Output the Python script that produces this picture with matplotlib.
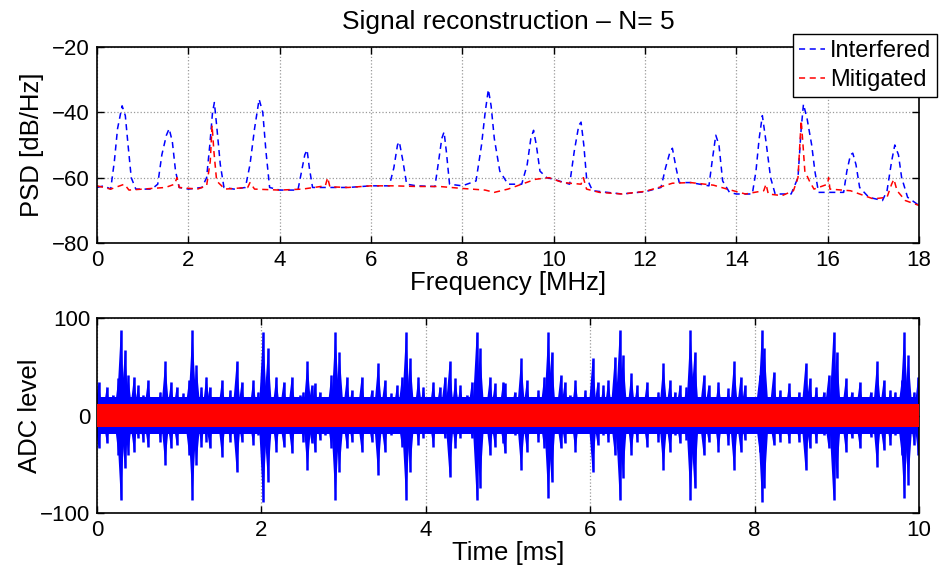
import matplotlib
matplotlib.use("Agg")
import matplotlib.pyplot as plt
import numpy as np

plt.rcParams['font.family'] = ['Liberation Sans', 'DejaVu Sans']

# ---------------- top panel data (PSD) ----------------
interf_freq = [0.0, 0.15, 0.3, 0.38, 0.45, 0.55, 0.62, 0.68, 0.75, 0.85, 1.0, 1.2, 1.33, 1.42, 1.52, 1.58,
               1.65, 1.72, 1.8, 2.0, 2.3, 2.4, 2.47, 2.53, 2.57, 2.62, 2.7, 2.78, 3.0, 3.25, 3.35, 3.45,
               3.55, 3.63, 3.7, 3.78, 4.0, 4.4, 4.48, 4.55, 4.6, 4.65, 4.72, 5.0, 5.5, 6.0, 6.4, 6.5,
               6.58, 6.62, 6.7, 6.78, 7.0, 7.4, 7.48, 7.55, 7.6, 7.65, 7.72, 8.0, 8.3, 8.42, 8.5, 8.57,
               8.63, 8.7, 8.82, 9.0, 9.3, 9.42, 9.5, 9.56, 9.62, 9.7, 9.85, 10.0, 10.35, 10.45, 10.55,
               10.6, 10.66, 10.72, 10.85, 11.5, 12.0, 12.35, 12.45, 12.55, 12.6, 12.68, 12.75, 13.0,
               13.4, 13.47, 13.55, 13.62, 13.7, 13.85, 14.0, 14.35, 14.43, 14.5, 14.57, 14.65, 14.75,
               14.85, 15.2, 15.35, 15.42, 15.47, 15.55, 15.65, 15.72, 15.8, 16.0, 16.35, 16.42, 16.5,
               16.55, 16.62, 16.7, 16.9, 17.2, 17.3, 17.4, 17.47, 17.55, 17.62, 17.75, 18.0]
interf_psd = [-63, -62.5, -63.5, -55, -45, -38, -41, -50, -60, -63.5, -63.5, -63.5, -62, -53, -47, -45,
              -49, -58, -63, -63.5, -63, -60, -50, -40, -37, -44, -56, -63, -63.5, -63, -56, -45,
              -36, -40, -52, -63, -63.8, -63.8, -58, -53, -51.5, -57, -63, -63, -63, -62.5, -62.5, -57,
              -50, -49, -55, -62, -62.5, -62.7, -55, -48, -46, -52, -62, -62.5, -61, -50, -40, -33,
              -38, -48, -58, -62, -62, -56, -48, -45.5, -50, -58, -60, -60.5, -62, -52, -44,
              -43, -50, -60, -64, -65, -64.3, -63, -57, -52, -51, -57, -61.5, -61.5,
              -62.5, -55, -47, -50, -61, -64.5, -65, -65, -58, -48, -41, -49, -60,
              -65, -65, -60, -45, -37.5, -42, -50, -58, -64.5, -64.5, -64.5, -58, -53,
              -52.5, -56, -63, -66, -67, -64, -55, -50, -53, -60, -66, -68.5]

mitig_freq = [0.0, 0.3, 0.6, 0.7, 1.0, 1.5, 1.7, 1.75, 1.8, 2.2, 2.4, 2.48, 2.52, 2.56, 2.62, 2.8, 3.3,
              3.35, 3.45, 4.0, 4.5, 5.0, 5.05, 5.1, 5.5, 6.0, 6.5, 7.0, 7.5, 8.0, 8.5, 8.7, 9.0, 9.3,
              9.6, 9.9, 10.2, 10.6, 10.65, 10.72, 11.0, 11.5, 12.0, 12.3, 12.6, 13.0, 13.5, 13.8, 14.2,
              14.6, 14.65, 14.7, 15.0, 15.25, 15.35, 15.42, 15.46, 15.5, 15.6, 15.7, 16.0, 16.02, 16.05,
              16.5, 17.0, 17.3, 17.4, 17.45, 17.52, 17.7, 18.0]
mitig_psd = [-62.5, -63.5, -62, -63.8, -63.5, -63, -62, -60, -63, -63.5, -62.5, -55, -44, -52, -61, -63.5, -63,
             -61.5, -63.5, -63.8, -63.5, -62.5, -60, -62.8, -63, -62.5, -62.5, -62.7, -62.7, -63.3, -63.8, -64.5, -63.5, -62,
             -60.5, -60, -61.5, -62, -60, -63.5, -64.5, -65, -64.2, -63, -61.7, -61.5, -62.3, -63.5, -65,
             -64, -62, -65, -65.5, -64, -60, -42.5, -50, -58, -61, -63.5, -62, -60, -63.5,
             -64, -66.5, -66, -62, -60.5, -64, -67, -68.5]

freq_ticks = [0, 2, 4, 6, 8, 10, 12, 14, 16, 18]
psd_ticks = [-80, -60, -40, -20]

# ---------------- bottom panel data (time signal) ----------------
spike_time = [0.02, 0.12, 0.19, 0.26, 0.29, 0.34, 0.38, 0.45, 0.50, 0.56, 0.62, 0.69, 0.77, 0.83, 0.90,
              0.97, 1.05, 1.12, 1.16, 1.21, 1.27, 1.33, 1.37, 1.46, 1.52, 1.62, 1.70, 1.76, 1.84, 1.90,
              1.96, 2.02, 2.08, 2.18, 2.27, 2.37, 2.47, 2.51, 2.56, 2.61, 2.65, 2.71, 2.77, 2.85, 2.90,
              2.95, 3.04, 3.10, 3.22, 3.28, 3.34, 3.42, 3.50, 3.58, 3.65, 3.71, 3.76, 3.81, 3.91, 3.97,
              4.09, 4.17, 4.23, 4.29, 4.36, 4.42, 4.50, 4.56, 4.62, 4.66, 4.78, 4.84, 4.94, 4.96, 5.08,
              5.16, 5.23, 5.29, 5.37, 5.44, 5.49, 5.53, 5.64, 5.69, 5.75, 5.82, 5.94, 6.03, 6.09, 6.16,
              6.22, 6.30, 6.36, 6.40, 6.50, 6.57, 6.69, 6.83, 6.89, 6.97, 7.03, 7.09, 7.17, 7.22, 7.27,
              7.38, 7.44, 7.46, 7.56, 7.68, 7.75, 7.83, 7.88, 7.96, 8.06, 8.09, 8.12, 8.23, 8.31, 8.42,
              8.54, 8.62, 8.67, 8.75, 8.84, 8.90, 8.96, 9.00, 9.11, 9.18, 9.28, 9.41, 9.49, 9.57, 9.65,
              9.71, 9.79, 9.82, 9.87, 9.94, 9.99]
spike_up = [34.7, 29.6, 21.2, 38.1, 87.7, 67.2, 41.6, 40.0, 31.3, 21.2, 36.4, 17.6, 24.5, 55.4, 34.7,
            29.6, 22.8, 36.4, 87.7, 52.0, 29.6, 40.0, 29.6, 19.3, 36.4, 26.2, 55.4, 34.7, 19.3, 36.4,
            24.5, 86.0, 68.9, 40.0, 34.7, 40.0, 21.2, 24.5, 55.4, 31.3, 33.0, 24.5, 19.3, 41.6, 86.0,
            65.5, 40.0, 26.2, 40.0, 17.6, 26.2, 53.7, 36.4, 22.8, 31.3, 40.0, 86.0, 58.8, 40.0, 29.6,
            34.7, 29.6, 40.0, 55.4, 38.1, 31.3, 21.2, 34.7, 86.0, 68.9, 40.0, 33.0, 34.7, 33.0, 24.5,
            58.8, 36.4, 19.3, 26.2, 40.0, 86.0, 65.5, 41.6, 34.7, 21.2, 36.4, 26.2, 58.8, 34.7, 31.3,
            36.4, 60.4, 87.7, 62.1, 43.5, 31.3, 34.7, 24.5, 53.7, 36.4, 24.5, 31.3, 29.6, 87.7, 65.5,
            41.6, 31.3, 17.6, 34.7, 27.9, 55.4, 40.0, 31.3, 15.9, 41.6, 87.7, 68.9, 45.0, 26.2, 33.0,
            24.5, 53.7, 38.1, 29.6, 24.5, 41.6, 86.0, 65.5, 38.1, 24.5, 34.7, 24.5, 55.4, 36.4, 26.2,
            24.5, 36.4, 86.0, 62.1, 24.5, 40.0]
spike_down = [-33.7, -28.5, -18.3, -40.5, -86.6, -54.2, -40.5, -37.1, -23.4, -26.8, -32.0, -14.8, -26.8, -50.8, -33.7,
              -30.3, -16.6, -40.5, -86.6, -50.8, -32.0, -26.8, -33.7, -18.3, -42.2, -26.8, -57.6, -26.8, -13.2, -30.3,
              -20.0, -88.3, -67.8, -37.1, -32.0, -38.8, -16.6, -26.8, -55.9, -28.5, -37.1, -25.1, -20.0, -33.7, -86.6,
              -57.6, -33.7, -26.8, -37.1, -18.3, -26.8, -61.0, -37.1, -20.0, -16.6, -32.0, -86.6, -57.6, -30.3, -23.4,
              -32.0, -16.6, -23.4, -62.7, -33.7, -23.4, -18.3, -23.4, -86.6, -74.6, -40.5, -32.0, -28.5, -38.8, -20.0,
              -55.9, -37.1, -18.3, -26.8, -33.7, -84.9, -67.8, -33.7, -28.5, -16.6, -37.1, -18.3, -57.6, -30.3, -20.0,
              -26.8, -40.5, -86.6, -64.4, -40.5, -26.8, -32.0, -26.8, -55.9, -37.1, -20.0, -28.5, -25.1, -86.6, -74.6,
              -40.5, -26.8, -13.2, -37.1, -30.3, -55.9, -37.1, -25.1, -18.3, -37.1, -88.3, -74.6, -30.3, -26.8, -28.5,
              -26.8, -55.9, -33.7, -28.5, -20.0, -33.7, -86.6, -64.4, -37.1, -23.4, -33.7, -21.7, -52.5, -35.4, -30.3,
              -20.0, -40.5, -84.9, -71.2, -30.3, -40.5]
blue_floor = 19.0
red_band = 12.0

time_ticks = [0, 2, 4, 6, 8, 10]
adc_ticks = [-100, 0, 100]

# ---------------- figure ----------------
fig = plt.figure(figsize=(9.41, 5.74), dpi=100)
ax1 = fig.add_axes([97 / 941, 1 - 243 / 574, 822 / 941, 196 / 574])
ax2 = fig.add_axes([97 / 941, 1 - 513 / 574, 822 / 941, 195 / 574])

fs_tick = 16
fs_label = 18.5

for ax in (ax1, ax2):
    ax.tick_params(direction='in', top=True, right=True, labelsize=fs_tick, length=5, width=1, pad=5)
    for s in ax.spines.values():
        s.set_linewidth(1.2)
    ax.grid(True, linestyle=':', color='#9a9a9a', linewidth=0.9)
    ax.set_axisbelow(True)

# top panel
ax1.plot(interf_freq, interf_psd, color='#0000ff', linestyle=(0, (4, 3)), linewidth=1.1, label='Interfered')
ax1.plot(mitig_freq, mitig_psd, color='#ff0000', linestyle=(0, (4, 3)), linewidth=1.1, label='Mitigated')
ax1.set_xlim(0, 18)
ax1.set_ylim(-80, -20)
ax1.set_xticks(freq_ticks)
ax1.set_yticks(psd_ticks)
ax1.set_yticklabels(['\u2212' + str(abs(v)) for v in psd_ticks])
ax1.set_xlabel('Frequency [MHz]', fontsize=fs_label, labelpad=0)
ax1.set_ylabel('PSD [dB/Hz]', fontsize=fs_label)
ax1.yaxis.set_label_coords((44 - 97) / 822, 0.5)
ax1.set_title('Signal reconstruction \u2013 N= 5', fontsize=19, pad=13)

leg = ax1.legend(loc='upper right', bbox_to_anchor=(937 / 941, 1 - 34 / 574),
                 bbox_transform=fig.transFigure, fontsize=17, frameon=True, fancybox=False,
                 handlelength=1.1, handletextpad=0.2, borderpad=0.25, labelspacing=0.3,
                 borderaxespad=0)
leg.get_frame().set_edgecolor('black')
leg.get_frame().set_linewidth(1.0)
leg.get_frame().set_alpha(1.0)

# bottom panel
spike_w = 0.055  # half-width of each spike drawing (style)
ax2.fill_between([0, 10], [-blue_floor, -blue_floor], [blue_floor, blue_floor], color='#0000ff', linewidth=0)
for t, u, d in zip(spike_time, spike_up, spike_down):
    ax2.fill([t - spike_w, t, t + spike_w], [0, u, 0], color='#0000ff', linewidth=0)
    ax2.fill([t - spike_w, t, t + spike_w], [0, d, 0], color='#0000ff', linewidth=0)
ax2.vlines(spike_time, spike_down, spike_up, color='#0000ff', linewidth=1.8)
ax2.fill_between([0, 10], [-red_band, -red_band], [red_band, red_band], color='#ff0000', linewidth=0, zorder=3)
ax2.set_xlim(0, 10)
ax2.set_ylim(-100, 100)
ax2.set_xticks(time_ticks)
ax2.set_yticks(adc_ticks)
ax2.set_yticklabels(['\u2212100', '0', '100'])
ax2.set_xlabel('Time [ms]', fontsize=fs_label, labelpad=0)
ax2.set_ylabel('ADC level', fontsize=fs_label)
ax2.yaxis.set_label_coords((42 - 97) / 822, 0.5)

fig.savefig('out.png', dpi=100)
